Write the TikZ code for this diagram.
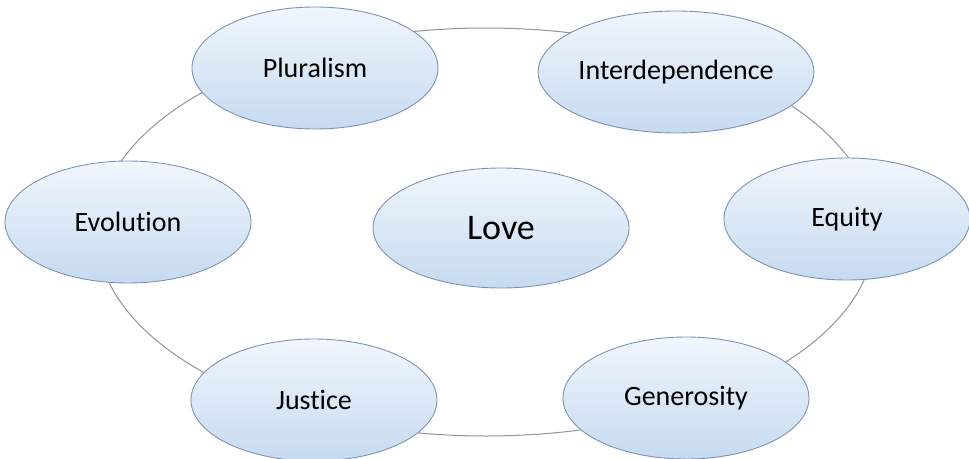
\documentclass[tikz,border=0pt]{standalone}
\usepackage{fontspec}
\setmainfont{Carlito}[Ligatures=NoCommon]
\usetikzlibrary{shapes.geometric}
\definecolor{ringgray}{HTML}{8E939C}
\definecolor{nodeborder}{HTML}{7B93B5}
\definecolor{filltop}{HTML}{F1F6FC}
\definecolor{fillbottom}{HTML}{C6DAF0}
\tikzset{
  ringline/.style={ellipse, draw=ringgray, line width=1pt, inner sep=0pt,
    minimum width=778pt, minimum height=408pt},
  bubble/.style={ellipse, draw=nodeborder, line width=0.9pt, inner sep=0pt,
    top color=filltop, bottom color=fillbottom,
    minimum width=246pt, minimum height=122pt, font=\fontsize{28}{30}\selectfont,
    text=black},
  centerbubble/.style={bubble, minimum width=256pt, minimum height=120pt,
    font=\fontsize{36}{40}\selectfont}
}
\begin{document}
\begin{tikzpicture}[x=1pt,y=-1pt]
  \useasboundingbox (0,0) rectangle (969,458);
  \node[ringline] (ring) at (486,232) {};
  \node[bubble] (pluralism) at (315,68) {Pluralism};
  \node[bubble] (interdependence) at (676,72) {Interdependence};
  \node[bubble] (evolution) at (128,222) {Evolution};
  \node[centerbubble] (love) at (501,228) {Love};
  \node[bubble] (equity) at (847,219) {Equity};
  \node[bubble] (justice) at (314,400) {Justice};
  \node[bubble] (generosity) at (686,398) {Generosity};
\end{tikzpicture}
\end{document}
